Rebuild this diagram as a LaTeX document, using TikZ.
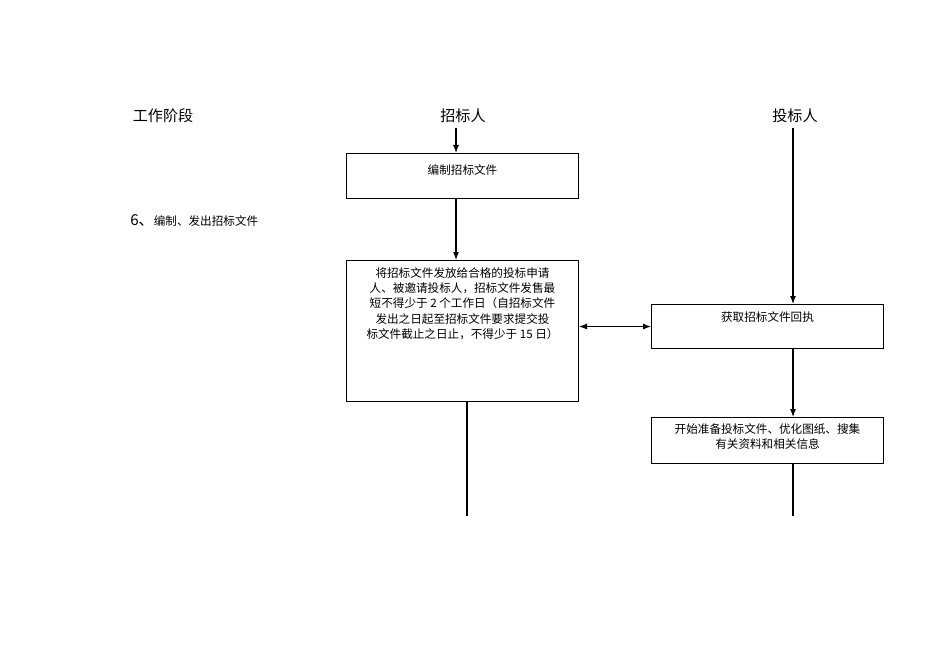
\documentclass[tikz,border=0pt]{standalone}
\usepackage{fontspec}
\setmainfont{Liberation Serif}
\newfontfamily\cjk{Noto Sans CJK SC}
\usetikzlibrary{arrows.meta, positioning}

\begin{document}
\begin{tikzpicture}[
    x=0.02cm, y=-0.02cm,
    box/.style={rectangle, draw, line width=0.6pt, anchor=north west, inner sep=0pt},
    txt/.style={font=\cjk\fontsize{6.6}{8.6}\selectfont, align=center, anchor=north, inner sep=0pt},
    head/.style={font=\cjk\fontsize{8.6}{10}\selectfont, inner sep=0pt},
    arrow/.style={-{Latex[length=1.6mm, width=1.2mm]}, line width=0.6pt},
    line/.style={line width=0.6pt}
]
\useasboundingbox (0,0) rectangle (950,672);

% headings
\node[head] (stage) at (163,116) {工作阶段};
\node[head] (owner) at (463,116) {招标人};
\node[head] (bidder) at (795,116) {投标人};
\node[head, anchor=west] (step) at (130,220) {6、\fontsize{6.6}{8}\selectfont 编制、发出招标文件};

% boxes
\node[box, minimum width=232\pgflinewidth, minimum width=4.64cm, minimum height=0.9cm] (compile) at (346,153) {};
\node[txt] at ([yshift=-0.22cm]compile.north) {编制招标文件};
\node[box, minimum width=4.64cm, minimum height=2.82cm] (issue) at (346,260) {};
\node[txt] at ([yshift=-0.15cm]issue.north) {将招标文件发放给合格的投标申请\\人、被邀请投标人，招标文件发售最\\短不得少于 2 个工作日（自招标文件\\发出之日起至招标文件要求提交投\\标文件截止之日止，不得少于 15 日）};
\node[box, minimum width=4.64cm, minimum height=0.88cm] (receipt) at (651,304) {};
\node[txt] at ([yshift=-0.15cm]receipt.north) {获取招标文件回执};
\node[box, minimum width=4.64cm, minimum height=0.92cm] (prepare) at (651,417) {};
\node[txt] at ([yshift=-0.12cm]prepare.north) {开始准备投标文件、优化图纸、搜集\\有关资料和相关信息};

% free ends
\coordinate (ownerTop) at (456,128);
\coordinate (bidderTop) at (793,128);
\coordinate (ownerEnd) at (467,516);
\coordinate (bidderEnd) at (793,516);

% connectors
\draw[arrow] (ownerTop) -- (ownerTop |- compile.north);
\draw[arrow] (ownerTop |- compile.south) -- (ownerTop |- issue.north);
\draw[line] (ownerEnd |- issue.south) -- (ownerEnd);
\draw[arrow] (bidderTop) -- (bidderTop |- receipt.north);
\draw[{Latex[length=1.6mm, width=1.2mm]}-{Latex[length=1.6mm, width=1.2mm]}, line width=0.6pt] (issue.east |- receipt.west) -- (receipt.west);
\draw[arrow] (bidderTop |- receipt.south) -- (bidderTop |- prepare.north);
\draw[line] (bidderTop |- prepare.south) -- (bidderEnd);

\end{tikzpicture}
\end{document}
